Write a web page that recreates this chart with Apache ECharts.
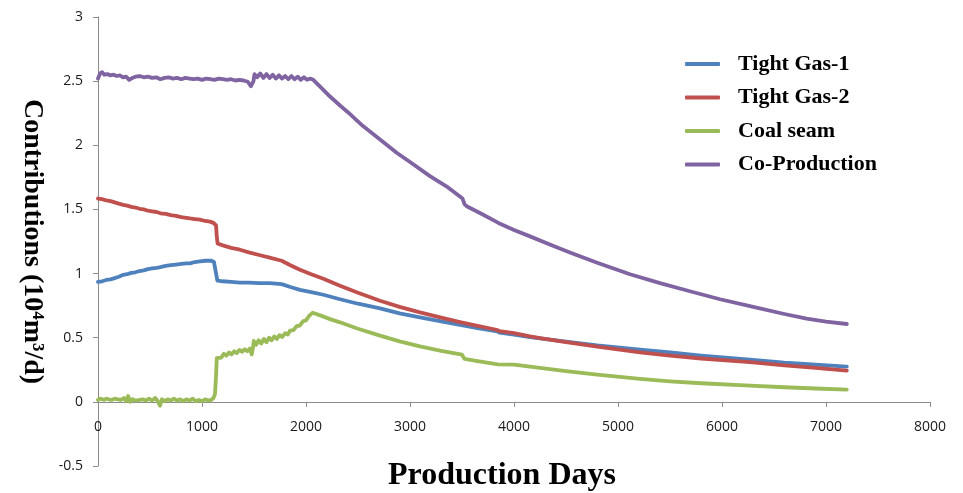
<!DOCTYPE html>
<html>
<head>
<meta charset="utf-8">
<title>Contributions by layer</title>
<script src="https://cdn.jsdelivr.net/npm/echarts@6/dist/echarts.min.js"></script>
<style>
  html, body { margin: 0; padding: 0; background: #ffffff; }
  #chart { width: 963px; height: 493px; }
</style>
</head>
<body>
<div id="chart"></div>
<script>
// Series names, in legend order
const seriesNames = ['Tight Gas-1', 'Tight Gas-2', 'Coal seam', 'Co-Production'];

// Axis tick settings (days, 10^4 m^3/d)
const xTicks = { min: 0, max: 8000, step: 1000 };
const yTicks = { min: -0.5, max: 3, step: 0.5 };

// [day, rate] pairs for each layer
const tightGas1 = [
  [0,0.935],[40,0.94],[80,0.95],[120,0.955],[160,0.965],[200,0.975],[243,0.99],[280,0.995],
  [320,1.005],[360,1.01],[400,1.02],[440,1.025],[480,1.035],[520,1.04],[564,1.045],[600,1.05],
  [650,1.06],[700,1.065],[750,1.07],[800,1.075],[850,1.08],[885,1.08],[930,1.09],[980,1.095],
  [1030,1.1],[1061,1.1],[1090,1.1],[1115,1.09],[1132,1.075],[1140,0.98],[1148,0.945],[1200,0.94],
  [1280,0.935],[1365,0.93],[1450,0.93],[1550,0.925],[1650,0.925],[1766,0.918],[1850,0.895],
  [1942,0.873],[2050,0.855],[2167,0.835],[2327,0.80],[2500,0.765],[2712,0.728],[2900,0.69],
  [3096,0.658],[3300,0.628],[3481,0.60],[3650,0.575],[3840,0.55],[3860,0.54],[4000,0.525],
  [4154,0.505],[4250,0.495],[4500,0.47],[4800,0.44],[5212,0.407],[5500,0.385],[5800,0.36],
  [6269,0.329],[6600,0.305],[6900,0.29],[7200,0.275]
];

const tightGas2 = [
  [0,1.585],[40,1.58],[80,1.57],[120,1.565],[160,1.555],[200,1.545],[243,1.536],[280,1.53],
  [320,1.52],[360,1.515],[400,1.505],[440,1.5],[480,1.49],[520,1.485],[564,1.48],[600,1.47],
  [650,1.465],[700,1.455],[750,1.45],[800,1.44],[850,1.435],[885,1.43],[930,1.425],[980,1.42],
  [1030,1.41],[1077,1.405],[1110,1.395],[1135,1.375],[1142,1.29],[1150,1.235],[1200,1.22],
  [1280,1.2],[1365,1.186],[1450,1.165],[1550,1.145],[1650,1.125],[1766,1.10],[1850,1.065],
  [1942,1.03],[2050,0.995],[2167,0.96],[2327,0.905],[2500,0.85],[2712,0.788],[2900,0.74],
  [3096,0.697],[3300,0.657],[3481,0.622],[3650,0.592],[3830,0.562],[3860,0.552],[4000,0.535],
  [4154,0.51],[4250,0.497],[4500,0.465],[4800,0.43],[5212,0.386],[5500,0.36],[5800,0.338],
  [6269,0.309],[6600,0.285],[6900,0.265],[7200,0.244]
];

const coalSeam = [
  [0,0.015],[20,0.025],[40,0.02],[60,0.015],[80,0.025],[100,0.02],[130,0.015],[160,0.025],
  [190,0.02],[220,0.015],[250,0.03],[270,0.005],[290,0.045],[310,0.0],[330,0.02],[360,0.01],
  [400,0.015],[430,0.02],[460,0.01],[490,0.025],[520,0.01],[550,0.03],[575,0.005],[596,-0.03],
  [615,0.02],[640,0.005],[670,0.02],[700,0.01],[730,0.025],[760,0.01],[790,0.02],[820,0.005],
  [850,0.02],[880,0.01],[910,0.025],[940,0.005],[970,0.015],[1000,0.005],[1030,0.02],[1060,0.01],
  [1090,0.015],[1110,0.03],[1125,0.06],[1135,0.2],[1142,0.34],[1160,0.355],[1185,0.345],
  [1210,0.375],[1235,0.36],[1260,0.385],[1285,0.37],[1310,0.395],[1335,0.38],[1360,0.405],
  [1385,0.39],[1410,0.41],[1435,0.395],[1460,0.415],[1478,0.37],[1490,0.42],[1498,0.475],
  [1520,0.445],[1545,0.48],[1570,0.455],[1595,0.49],[1620,0.465],[1645,0.5],[1670,0.48],
  [1695,0.51],[1720,0.49],[1745,0.52],[1770,0.505],[1800,0.535],[1825,0.525],[1846,0.555],
  [1880,0.56],[1910,0.59],[1940,0.595],[1974,0.63],[2000,0.635],[2030,0.67],[2065,0.695],
  [2150,0.67],[2231,0.645],[2327,0.62],[2500,0.57],[2712,0.516],[2900,0.472],[3096,0.433],
  [3300,0.398],[3500,0.368],[3512,0.355],[3525,0.335],[3650,0.318],[3845,0.292],[3858,0.305],
  [4000,0.29],[4154,0.275],[4250,0.265],[4500,0.24],[4800,0.212],[5212,0.179],[5500,0.16],
  [5800,0.145],[6269,0.127],[6600,0.114],[6900,0.104],[7200,0.096]
];

const coProduction = [
  [0,2.52],[20,2.56],[40,2.57],[60,2.55],[90,2.555],[120,2.545],[150,2.55],[180,2.54],
  [210,2.545],[240,2.53],[270,2.535],[300,2.51],[330,2.525],[360,2.535],[400,2.54],[440,2.53],
  [480,2.535],[520,2.525],[560,2.53],[600,2.515],[640,2.525],[680,2.53],[720,2.52],[760,2.525],
  [800,2.515],[840,2.525],[880,2.52],[920,2.515],[960,2.52],[1000,2.51],[1040,2.52],[1080,2.515],
  [1120,2.51],[1160,2.52],[1200,2.515],[1240,2.51],[1280,2.515],[1320,2.505],[1360,2.51],
  [1400,2.505],[1440,2.495],[1470,2.46],[1485,2.45],[1495,2.5],[1505,2.555],[1530,2.53],
  [1560,2.56],[1590,2.525],[1620,2.555],[1650,2.525],[1680,2.55],[1710,2.52],[1740,2.545],
  [1770,2.52],[1800,2.54],[1830,2.515],[1860,2.54],[1890,2.515],[1920,2.535],[1950,2.51],
  [1980,2.53],[2010,2.51],[2040,2.52],[2070,2.51],[2150,2.445],[2231,2.38],[2327,2.31],
  [2400,2.26],[2548,2.15],[2712,2.045],[2875,1.94],[3000,1.87],[3192,1.76],[3350,1.68],
  [3505,1.585],[3525,1.54],[3545,1.525],[3700,1.46],[3850,1.395],[4000,1.34],[4154,1.29],
  [4350,1.225],[4538,1.165],[4800,1.085],[5115,0.995],[5404,0.925],[5700,0.86],[5981,0.8],
  [6300,0.74],[6600,0.685],[6814,0.648],[7000,0.625],[7200,0.607]
];

const seriesData = [tightGas1, tightGas2, coalSeam, coProduction];
const seriesColors = ['#4F81BD', '#C0504D', '#9BBB59', '#8064A2'];

const labelFont = { fontFamily: '"Open Sans", sans-serif', fontSize: 14, color: '#1a1a1a' };
const axisGray = '#8c8c8c';
const titleFont = '"Liberation Serif", "Times New Roman", serif';

// plot area: y from 17 (value 3) to 466 (value -0.5)
const gridTop = 17, gridBottom = 27;
const plotHeight = 493 - gridTop - gridBottom;
// the x axis sits on the zero line, lifted from the bottom of the plot area
const zeroLift = plotHeight * (0 - yTicks.min) / (yTicks.max - yTicks.min);

const chart = echarts.init(document.getElementById('chart'), null, { renderer: 'canvas' });

chart.setOption({
  animation: false,
  backgroundColor: '#ffffff',
  grid: { left: 98, right: 33, top: gridTop, bottom: gridBottom, containLabel: false, outerBoundsMode: 'none' },
  legend: {
    orient: 'vertical',
    left: 685,
    top: 53,
    padding: 0,
    itemWidth: 35,
    itemHeight: 4,
    itemGap: 11.5,
    icon: 'roundRect',
    data: seriesNames,
    textStyle: {
      fontFamily: titleFont,
      fontWeight: 'bold',
      fontSize: 22,
      lineHeight: 22,
      color: '#000000',
      padding: [0, 0, 0, 13]
    }
  },
  xAxis: {
    type: 'value',
    min: xTicks.min,
    max: xTicks.max,
    interval: xTicks.step,
    offset: -zeroLift,
    name: 'Production Days',
    nameLocation: 'middle',
    nameGap: 58,
    nameTextStyle: {
      fontFamily: titleFont,
      fontWeight: 'bold',
      fontSize: 32,
      color: '#000000',
      padding: [0, 24, 0, 0]
    },
    axisLine: { show: true, onZero: false, lineStyle: { color: axisGray, width: 1 } },
    axisTick: { show: true, inside: false, length: 5, lineStyle: { color: axisGray } },
    axisLabel: Object.assign({ margin: 18, formatter: v => String(v) }, labelFont),
    splitLine: { show: false }
  },
  yAxis: {
    type: 'value',
    min: yTicks.min,
    max: yTicks.max,
    interval: yTicks.step,
    name: 'Contributions (10\u2074m\u00B3/d)',
    nameLocation: 'middle',
    nameRotate: -90,
    nameGap: 52,
    nameTextStyle: {
      fontFamily: titleFont,
      fontWeight: 'bold',
      fontSize: 28,
      color: '#000000'
    },
    axisLine: { show: true, lineStyle: { color: axisGray, width: 1 } },
    axisTick: { show: true, inside: false, length: 5, lineStyle: { color: axisGray } },
    axisLabel: Object.assign({ margin: 15 }, labelFont),
    splitLine: { show: false }
  },
  series: seriesNames.map((name, i) => ({
    name: name,
    type: 'line',
    data: seriesData[i],
    showSymbol: false,
    symbol: 'none',
    smooth: false,
    color: seriesColors[i],
    lineStyle: { width: 3.8, color: seriesColors[i], cap: 'round', join: 'round' }
  }))
});
</script>
</body>
</html>
